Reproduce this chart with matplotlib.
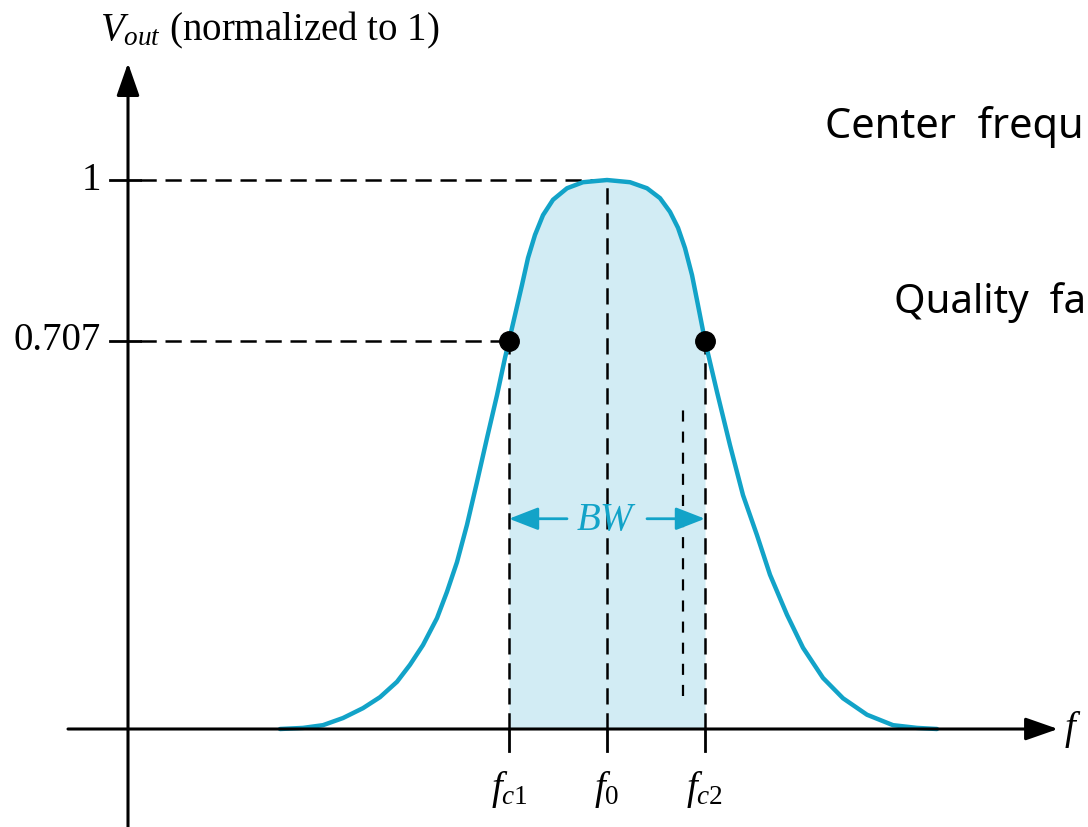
import matplotlib
matplotlib.use('Agg')
import matplotlib.pyplot as plt
import numpy as np

#---- Data -------------------------------------------------------------------#

# frequency axis (arbitrary units, y-axis at f = 0)
f_c1 = 3.81
f_0 = 4.79
f_c2 = 5.77
half_power = 0.707

# response curve
freq = np.array([1.52, 1.75, 1.95, 2.15, 2.35, 2.52, 2.69, 2.82, 2.95, 3.09,
                 3.19, 3.29, 3.39, 3.49, 3.59, 3.69, 3.77, 3.81, 3.87, 3.94,
                 4.00, 4.07, 4.15, 4.25, 4.39, 4.55, 4.79, 5.02, 5.19, 5.32,
                 5.42, 5.50, 5.57, 5.64, 5.70, 5.77, 5.89, 6.02, 6.15, 6.29,
                 6.42, 6.59, 6.75, 6.95, 7.15, 7.39, 7.65, 7.89, 8.09])
vout = np.array([0.000, 0.002, 0.007, 0.020, 0.038, 0.058, 0.086, 0.117, 0.153, 0.202,
                 0.250, 0.304, 0.372, 0.450, 0.530, 0.608, 0.676, 0.707, 0.754, 0.809,
                 0.858, 0.900, 0.936, 0.964, 0.985, 0.996, 1.000, 0.996, 0.985, 0.967,
                 0.942, 0.913, 0.876, 0.827, 0.772, 0.707, 0.614, 0.517, 0.426, 0.353,
                 0.281, 0.208, 0.148, 0.093, 0.056, 0.026, 0.007, 0.002, 0.000])

ytick_vals = [1, half_power]
ytick_labels = ['1', '0.707']
xtick_vals = [f_c1, f_0, f_c2]
xtick_labels = [r'$f_{c1}$', r'$f_0$', r'$f_{c2}$']

#---- Style ------------------------------------------------------------------#

plt.rcParams['mathtext.fontset'] = 'custom'
plt.rcParams['mathtext.rm'] = 'Liberation Serif'
plt.rcParams['mathtext.it'] = 'Liberation Serif:italic'
serif = ['Liberation Serif', 'DejaVu Serif']
narrow = ['DejaVu Sans Condensed', 'Noto Sans Condensed',
          'Liberation Sans Narrow', 'Noto Sans', 'DejaVu Sans']

blue = '#12a3c8'
fill_blue = '#d2ecf4'
dash = (6.5, 3.5)

#---- Plotting ---------------------------------------------------------------#

fig = plt.figure(figsize=(10.88, 8.27), dpi=100)
ax = fig.add_axes([0, 0, 1, 1])
ax.set_xlim(-1.28, 9.60)
ax.set_ylim(-0.1785, 1.3279)
ax.axis('off')

# shaded pass band
band = (freq >= f_c1) & (freq <= f_c2)
ax.fill_between(freq, vout, 0, where=band, color=fill_blue, lw=0, zorder=1)

# dashed guide lines
ax.plot([0.12, f_0], [1, 1], 'k--', lw=1.8, dashes=dash, zorder=2)
ax.plot([0.12, f_c1], [half_power, half_power], 'k--', lw=1.8, dashes=dash, zorder=2)
ax.plot([f_c1, f_c1], [0, half_power], 'k--', lw=1.8, dashes=dash, zorder=2)
ax.plot([f_0, f_0], [0, 1], 'k--', lw=1.8, dashes=dash, zorder=2)
ax.plot([f_c2, f_c2], [0, half_power], 'k--', lw=1.8, dashes=dash, zorder=2)
ax.plot([5.55, 5.55], [0.06, 0.587], 'k--', lw=1.6, dashes=(5, 4.5), zorder=2)

# response curve and half-power points
ax.plot(freq, vout, color=blue, lw=3.2, zorder=3, solid_joinstyle='round',
        solid_capstyle='round')
ax.plot([f_c1, f_c2], [half_power, half_power], 'ko', ms=14, zorder=4)

# axes with arrow heads
ax.annotate('', xy=(9.30, 0), xytext=(-0.60, 0),
            arrowprops=dict(arrowstyle='-|>,head_length=1.0,head_width=0.35',
                            mutation_scale=20, lw=2.2, color='black',
                            shrinkA=0, shrinkB=0), zorder=5)
ax.annotate('', xy=(0, 1.213), xytext=(0, -0.1785),
            arrowprops=dict(arrowstyle='-|>,head_length=1.0,head_width=0.35',
                            mutation_scale=20, lw=2.2, color='black',
                            shrinkA=0, shrinkB=0), zorder=5)

# tick marks and labels
for v, lab in zip(ytick_vals, ytick_labels):
    ax.plot([-0.18, 0.12], [v, v], 'k-', lw=2, zorder=5)
    ax.text(-0.27, v, lab, ha='right', va='center', fontsize=28,
            family=serif)
for f, lab in zip(xtick_vals, xtick_labels):
    ax.plot([f, f], [0, -0.040], 'k-', lw=2, zorder=5)
    ax.text(f, -0.128, lab, ha='center', va='baseline', fontsize=28,
            family=serif)

# axis titles
ax.text(-0.28, 1.255, r'$V_{out}$ (normalized to 1)', ha='left',
        va='baseline', fontsize=28, family=serif)
ax.text(9.36, 0, r'$f$', ha='left', va='center', fontsize=28, family=serif)

# bandwidth arrows
bw_y = 0.383
arrow_kw = dict(arrowstyle='-|>,head_length=0.9,head_width=0.35',
                mutation_scale=20, lw=2, color=blue, shrinkA=0, shrinkB=0)
ax.annotate('', xy=(f_c1, bw_y), xytext=(4.39, bw_y), arrowprops=arrow_kw)
ax.annotate('', xy=(f_c2, bw_y), xytext=(5.19, bw_y), arrowprops=arrow_kw)
ax.text(4.79, bw_y, r'$BW$', ha='center', va='center', fontsize=28,
        color=blue)

# side notes (cut off at the right edge in the original)
ax.text(6.97, 1.077, 'Center  frequ', ha='left', va='baseline',
        fontsize=30, family=narrow, fontstretch='condensed')
ax.text(7.66, 0.758, 'Quality  fa', ha='left', va='baseline',
        fontsize=29, family=narrow, fontstretch='condensed')

plt.savefig('out.png', dpi=100)
